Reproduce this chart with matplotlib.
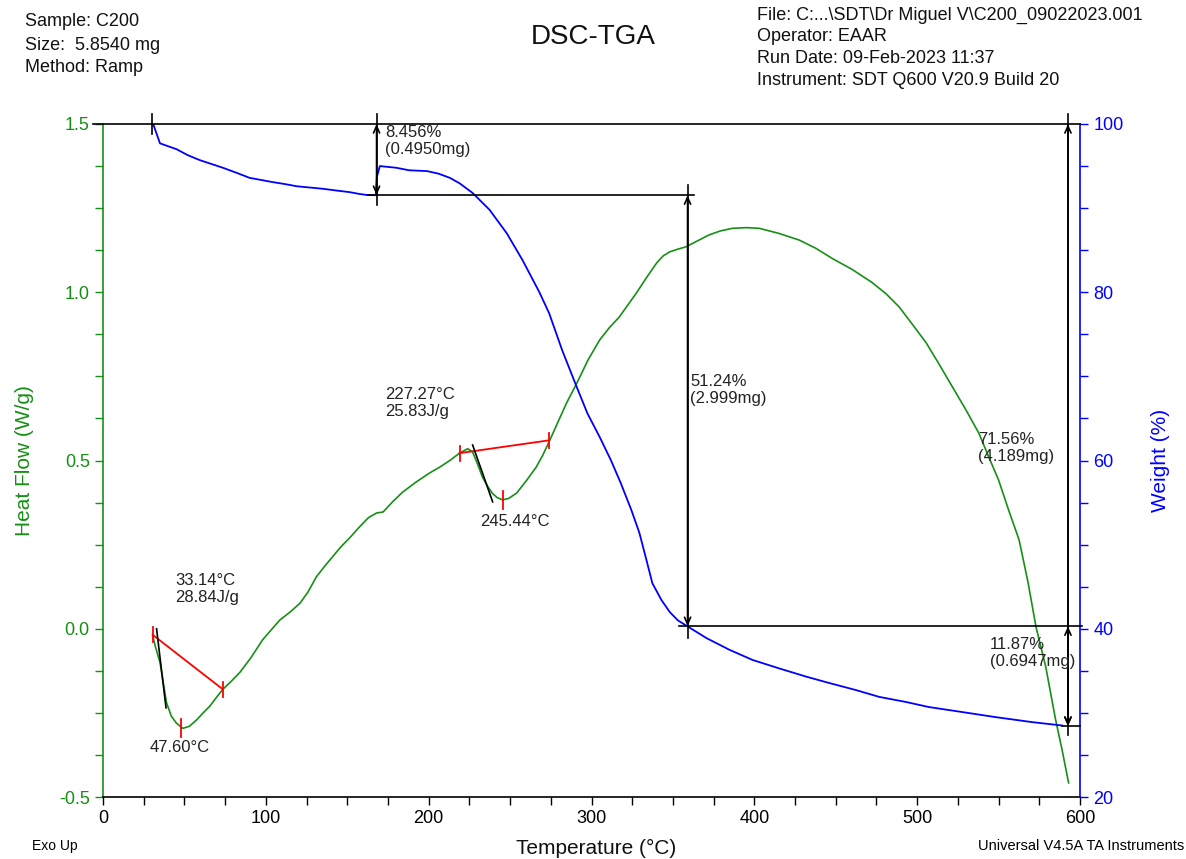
import matplotlib
matplotlib.use("Agg")
import matplotlib.pyplot as plt
from matplotlib import font_manager as fm
from matplotlib.ticker import MultipleLocator

# ---------------- data ----------------
# DSC heat flow (W/g) vs temperature (°C)
dsc_temp = [30.5, 32.0, 35.0, 37.0, 39.0, 42.0, 45.0, 49.0, 53.0, 57.7, 61.5, 65.6,
            69.5, 73.6, 79.0, 84.0, 91.0, 98.0, 103.0, 108.6, 115.0, 121.0, 126.0,
            131.0, 136.0, 141.0, 146.0, 151.5, 157.0, 163.0, 168.0, 172.0, 178.0,
            184.0, 192.0, 200.6, 206.7, 213.0, 219.0, 224.0, 227.0, 230.0, 233.0,
            236.0, 239.0, 242.0, 245.4, 249.0, 254.0, 260.0, 266.0, 270.0, 274.0,
            279.0, 284.7, 291.0, 298.0, 305.0, 311.0, 317.0, 322.0, 327.6, 334.0,
            340.0, 344.0, 348.0, 353.0, 358.0, 366.0, 372.0, 379.0, 386.5, 395.0,
            403.0, 415.0, 427.6, 438.0, 448.0, 460.0, 472.0, 481.0, 489.0, 497.0,
            505.5, 513.0, 521.5, 530.0, 538.0, 544.0, 550.0, 556.0, 562.6, 568.0,
            573.0, 579.0, 585.0, 589.0, 593.0]
dsc_heat = [-0.02, -0.05, -0.10, -0.16, -0.22, -0.26, -0.28, -0.296, -0.29, -0.27,
            -0.25, -0.23, -0.205, -0.18, -0.155, -0.13, -0.085, -0.033, -0.005, 0.026,
            0.05, 0.076, 0.11, 0.154, 0.185, 0.214, 0.243, 0.27, 0.30, 0.33, 0.344,
            0.347, 0.378, 0.406, 0.435, 0.463, 0.48, 0.50, 0.522, 0.535, 0.525, 0.49,
            0.451, 0.425, 0.403, 0.39, 0.383, 0.387, 0.403, 0.44, 0.48, 0.515, 0.556,
            0.61, 0.671, 0.73, 0.80, 0.858, 0.895, 0.926, 0.96, 0.998, 1.045, 1.087,
            1.108, 1.12, 1.128, 1.135, 1.155, 1.17, 1.182, 1.19, 1.192, 1.19, 1.175,
            1.155, 1.13, 1.10, 1.068, 1.03, 0.995, 0.956, 0.905, 0.85, 0.79, 0.72,
            0.65, 0.58, 0.51, 0.442, 0.355, 0.264, 0.14, 0.005, -0.114, -0.27, -0.36,
            -0.458]

# TGA weight (%) vs temperature (°C)
tga_temp = [30.0, 31.0, 33.0, 35.0, 45.2, 52.0, 59.5, 73.6, 82.0, 90.0, 104.0, 112.0,
            119.0, 127.0, 135.0, 143.0, 151.5, 157.0, 162.0, 167.5, 168.2, 170.0,
            180.0, 188.0, 199.0, 206.0, 213.0, 219.0, 227.0, 237.4, 248.0, 257.7,
            268.0, 274.0, 282.0, 291.0, 297.5, 305.0, 312.0, 318.0, 324.5, 329.4,
            333.7, 337.4, 343.0, 348.0, 353.0, 358.0, 370.5, 384.7, 398.8, 415.0,
            432.0, 446.0, 462.6, 476.7, 493.0, 507.0, 527.6, 548.0, 570.6, 589.0]
tga_weight = [100.0, 99.9, 98.8, 97.7, 97.0, 96.3, 95.7, 94.8, 94.2, 93.6, 93.1, 92.85,
              92.6, 92.45, 92.3, 92.1, 91.9, 91.7, 91.56, 91.54, 93.7, 95.0, 94.8,
              94.5, 94.4, 94.1, 93.6, 92.95, 91.8, 89.8, 87.0, 83.8, 80.0, 77.5, 73.1,
              68.7, 65.6, 62.8, 60.0, 57.3, 54.1, 51.4, 48.2, 45.4, 43.4, 42.0, 41.0,
              40.4, 38.9, 37.5, 36.3, 35.3, 34.3, 33.55, 32.7, 31.9, 31.3, 30.7, 30.1,
              29.5, 28.9, 28.5]

# Peak integration (DSC)
peak_base_start = [(30.5, -0.018), (219.0, 0.522)]
peak_base_end = [(73.6, -0.18), (274.0, 0.56)]
peak_max = [(47.60, -0.296), (245.44, 0.383)]
peak_tangent = [((32.9, 0.0), (38.7, -0.235)), ((227.0, 0.546), (239.3, 0.377))]
peak_onset_labels = ["33.14°C\n28.84J/g", "227.27°C\n25.83J/g"]
peak_max_labels = ["47.60°C", "245.44°C"]

# Weight steps (TGA)
step_levels = [100.0, 91.54, 40.30, 28.43]
step_temps = [168.0, 359.0, 592.6]
step_labels = ["8.456%\n(0.4950mg)", "51.24%\n(2.999mg)", "71.56%\n(4.189mg)",
               "11.87%\n(0.6947mg)"]

header_left = ["Sample: C200", "Size:  5.8540 mg", "Method: Ramp"]
header_right = ["File: C:...\\SDT\\Dr Miguel V\\C200_09022023.001", "Operator: EAAR",
                "Run Date: 09-Feb-2023 11:37", "Instrument: SDT Q600 V20.9 Build 20"]

# ---------------- style ----------------
def has_font(name):
    try:
        fm.findfont(fm.FontProperties(family=name), fallback_to_default=False)
        return True
    except Exception:
        return False

base = "Liberation Sans" if has_font("Liberation Sans") else "DejaVu Sans"
narrow = "Liberation Sans Narrow" if has_font("Liberation Sans Narrow") else base
plt.rcParams["font.family"] = [base, "DejaVu Sans"]

GREEN = "#168f16"
BLUE = "#0000ff"
W, H = 1186, 859
fig = plt.figure(figsize=(W / 100, H / 100), dpi=100)

def fp(x, y):
    return x / W, 1 - y / H

ax = fig.add_axes([103 / W, 1 - 797 / H, (1080 - 103) / W, (797 - 124) / H])
ax2 = ax.twinx()

ax.set_xlim(0, 600)
ax.set_ylim(-0.5, 1.5)
ax2.set_ylim(20, 100)

ax.plot(dsc_temp, dsc_heat, color=GREEN, lw=1.2, zorder=3)
ax2.plot(tga_temp, tga_weight, color=BLUE, lw=1.3, zorder=3)

# spines & ticks
for a in (ax, ax2):
    a.spines["top"].set_visible(False)
ax.spines["right"].set_visible(False)
ax2.spines["left"].set_visible(False)
ax2.spines["bottom"].set_visible(False)
ax.spines["left"].set_color(GREEN)
ax2.spines["right"].set_color(BLUE)
ax.spines["bottom"].set_color("black")
for s in ("left", "bottom"):
    ax.spines[s].set_linewidth(1.2)
ax2.spines["right"].set_linewidth(1.2)

ax.xaxis.set_major_locator(MultipleLocator(100))
ax.xaxis.set_minor_locator(MultipleLocator(25))
ax.yaxis.set_major_locator(MultipleLocator(0.5))
ax.yaxis.set_minor_locator(MultipleLocator(0.125))
ax2.yaxis.set_major_locator(MultipleLocator(20))
ax2.yaxis.set_minor_locator(MultipleLocator(5))
ax.yaxis.set_major_formatter(plt.FuncFormatter(lambda v, p: f"{v:.1f}"))

ax.tick_params(axis="x", which="both", direction="out", colors="black", labelsize=13,
               length=6, width=1)
ax.tick_params(axis="y", which="both", direction="out", colors=GREEN, labelcolor=GREEN,
               labelsize=13, length=6, width=1)
ax2.tick_params(axis="y", which="both", direction="out", colors=BLUE, labelcolor=BLUE,
                labelsize=13, length=6, width=1)
for lab in ax.get_xticklabels() + ax.get_yticklabels() + ax2.get_yticklabels():
    lab.set_fontfamily(narrow)

ax.set_ylabel("Heat Flow (W/g)", fontsize=15, color=GREEN, labelpad=18)
ax2.set_ylabel("Weight (%)", fontsize=15, color=BLUE, labelpad=20)
fig.text(*fp(596, 848), "Temperature (°C)", fontsize=15, ha="center", va="center",
         color="#111111")

# ---------------- DSC peak integration ----------------
for (s, e, m, tg) in zip(peak_base_start, peak_base_end, peak_max, peak_tangent):
    ax.plot([s[0], e[0]], [s[1], e[1]], color="red", lw=1.3, zorder=4)
    for pt in (s, e):
        ax.plot([pt[0], pt[0]], [pt[1] - 0.022, pt[1] + 0.022], color="red", lw=1.3, zorder=4)
    ax.plot([m[0], m[0]], [m[1] - 0.027, m[1] + 0.027], color="red", lw=1.3, zorder=4)
    ax.plot([tg[0][0], tg[1][0]], [tg[0][1], tg[1][1]], color="black", lw=1.2, zorder=5)

tk = dict(fontsize=12, color="#222222", linespacing=1.15, va="top", ha="left")
fig.text(*fp(175, 573), peak_onset_labels[0], **tk)
fig.text(*fp(385, 387), peak_onset_labels[1], **tk)
fig.text(*fp(150, 740), peak_max_labels[0], **tk)
fig.text(*fp(480, 514), peak_max_labels[1], **tk)

# ---------------- TGA step analysis ----------------
lk = dict(color="black", lw=1.2, zorder=4, clip_on=False)
ax2.plot([-6, 600], [step_levels[0], step_levels[0]], **lk)
ax2.plot([163, 363], [step_levels[1], step_levels[1]], **lk)
ax2.plot([354, 601], [step_levels[2], step_levels[2]], **lk)
ax2.plot([589, 600], [step_levels[3], step_levels[3]], **lk)
# tick crossings
ax2.plot([30, 30], [101.2, 98.8], **lk)
ax2.plot([step_temps[0]] * 2, [101.2, 90.4], **lk)
ax2.plot([step_temps[1]] * 2, [92.7, 38.9], **lk)
ax2.plot([step_temps[2]] * 2, [101.2, 27.4], **lk)

arr = dict(arrowstyle="<->,head_length=0.5,head_width=0.22", color="black", lw=1.2,
           shrinkA=0, shrinkB=0)
ax2.annotate("", xy=(step_temps[0], step_levels[0]), xytext=(step_temps[0], step_levels[1]),
             arrowprops=arr)
ax2.annotate("", xy=(step_temps[1], step_levels[1]), xytext=(step_temps[1], step_levels[2]),
             arrowprops=arr)
ax2.annotate("", xy=(step_temps[2], step_levels[0]), xytext=(step_temps[2], step_levels[3]),
             arrowprops=arr)
ax2.annotate("", xy=(step_temps[2], step_levels[2]), xytext=(step_temps[2], step_levels[3]),
             arrowprops=arr)

fig.text(*fp(385, 125), step_labels[0], **tk)
fig.text(*fp(690, 374), step_labels[1], **tk)
fig.text(*fp(978, 432), step_labels[2], **tk)
fig.text(*fp(990, 637), step_labels[3], **tk)

# ---------------- header / footer ----------------
hk = dict(fontsize=13, color="#111111", va="center", ha="left")
for i, t in enumerate(header_left):
    fig.text(*fp(25, 22 + i * 23), t, **hk)
for i, t in enumerate(header_right):
    fig.text(*fp(757, 15 + i * 21.7), t, **hk)
fig.text(*fp(593, 37), "DSC-TGA", fontsize=20, ha="center", va="center", color="#111111")
fig.text(*fp(32, 846), "Exo Up", fontsize=10, ha="left", va="center", family=narrow)
fig.text(*fp(1184, 846), "Universal V4.5A TA Instruments", fontsize=10.5, ha="right",
         va="center", family=narrow)

fig.savefig("out.png", dpi=100)
